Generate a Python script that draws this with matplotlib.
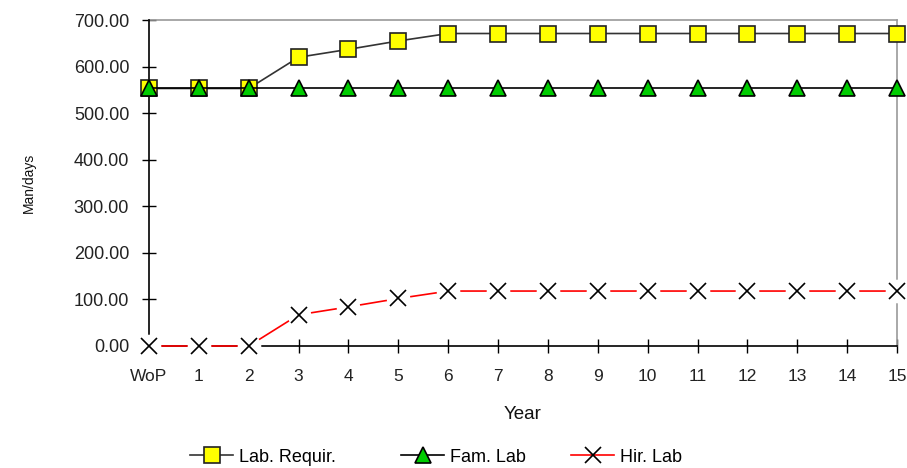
import matplotlib
matplotlib.use("Agg")
import matplotlib.pyplot as plt
from matplotlib.lines import Line2D
import numpy as np

plt.rcParams['font.family'] = ['Liberation Sans', 'DejaVu Sans']

years = ["WoP", "1", "2", "3", "4", "5", "6", "7", "8", "9", "10", "11", "12", "13", "14", "15"]
lab_requir = [553, 553, 553, 620, 637, 655, 671, 671, 671, 671, 671, 671, 671, 671, 671, 671]
fam_lab = [553, 553, 553, 553, 553, 553, 553, 553, 553, 553, 553, 553, 553, 553, 553, 553]
hir_lab = [0, 0, 0, 67, 84, 102, 118, 118, 118, 118, 118, 118, 118, 118, 118, 118]
y_ticks = [0, 100, 200, 300, 400, 500, 600, 700]
legend_labels = ['Lab. Requir.', 'Fam. Lab', 'Hir. Lab']

fig = plt.figure(figsize=(9.07, 4.68), dpi=100)
ax = fig.add_axes([149/907, 1-346/468, (897-149)/907, (346-20)/468])
x = np.arange(len(years))

l1, = ax.plot(x, lab_requir, color='#333333', lw=1.2, marker='s', ms=11.5,
              mfc='#ffff00', mec='#222222', mew=1.2, zorder=4, clip_on=False)
l2, = ax.plot(x, fam_lab, color='black', lw=1.2, marker='^', ms=11.5,
              mfc='#00cc00', mec='black', mew=1.2, zorder=5, clip_on=False)
ax.plot(x, hir_lab, color='red', lw=1.2, zorder=4, clip_on=False)
ax.plot(x, hir_lab, ls='none', marker='o', ms=17, mfc='white', mec='none',
        zorder=5, clip_on=False)
ax.plot(x, hir_lab, ls='none', marker='x', ms=12, mec='black', mew=1.2,
        zorder=6, clip_on=False)

ax.set_xlim(0, len(years)-1)
ax.set_ylim(0, 700)
ax.set_xticks(x)
ax.set_xticklabels(years)
ax.set_yticks(y_ticks)
ax.set_yticklabels([f"{v:.2f}" for v in y_ticks])

for s in ['top', 'right']:
    ax.spines[s].set_color('#999999')
    ax.spines[s].set_linewidth(1.2)
for s in ['left', 'bottom']:
    ax.spines[s].set_color('black')
    ax.spines[s].set_linewidth(1.2)
    ax.spines[s].set_zorder(3)

ax.tick_params(axis='y', direction='inout', length=10.5, width=1.0, pad=9,
               labelsize=13, colors='black', labelcolor='#222222')
ax.tick_params(axis='x', direction='inout', length=9.5, width=1.0, pad=12,
               labelsize=12.5, colors='black', labelcolor='#222222')

ax.set_xlabel('Year', fontsize=13.5, labelpad=16, color='#111111')
ax.set_ylabel('Man/days', fontsize=10, labelpad=27, color='#111111')

h1 = Line2D([], [], color='#333333', lw=1.2, marker='s', ms=11, mfc='#ffff00', mec='#222222', mew=1.2)
h2 = Line2D([], [], color='black', lw=1.2, marker='^', ms=11, mfc='#00cc00', mec='black', mew=1.2)
h3 = Line2D([], [], color='red', lw=1.2, marker='x', ms=12, mec='black', mew=1.2)
starts = [190, 401, 571]
for h, lab, xs in zip([h1, h2, h3], legend_labels, starts):
    fig.legend([h], [lab], loc='center left', bbox_to_anchor=(xs/907, 1-457/468),
               frameon=False, fontsize=13, handlelength=2.4, handletextpad=0.3,
               borderpad=0, borderaxespad=0)

fig.savefig('out.png', dpi=100)
